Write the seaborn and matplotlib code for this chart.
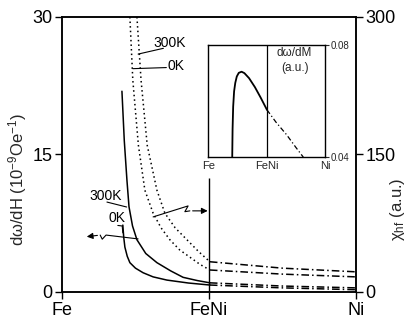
import numpy as np
import pandas as pd
import matplotlib
matplotlib.use("Agg")
import matplotlib.pyplot as plt
import seaborn as sns

# composition axis: 0 = Fe, 0.5 = FeNi, 1 = Ni
comp_ticks = [0.0, 0.5, 1.0]
comp_labels = ["Fe", "FeNi", "Ni"]

# dw/dH (left axis), solid part up to FeNi
dwdh_300_x = [0.204, 0.212, 0.221, 0.228, 0.24, 0.255, 0.285, 0.323, 0.37, 0.412, 0.46, 0.503]
dwdh_300_y = [21.9, 16.5, 12.2, 9.3, 7.2, 5.7, 4.2, 3.2, 2.3, 1.6, 1.25, 1.0]
dwdh_0_x = [0.207, 0.210, 0.214, 0.222, 0.231, 0.25, 0.276, 0.31, 0.357, 0.43, 0.503]
dwdh_0_y = [7.3, 6.0, 4.9, 3.9, 3.2, 2.6, 2.1, 1.65, 1.3, 0.98, 0.76]
# dash-dot continuation FeNi -> Ni
dwdh_300_ext_x = [0.503, 0.75, 1.0]
dwdh_300_ext_y = [1.0, 0.65, 0.45]
dwdh_0_ext_x = [0.503, 0.75, 1.0]
dwdh_0_ext_y = [0.76, 0.45, 0.25]

# chi_hf (right axis), dotted up to FeNi
chi_0_x = [0.231, 0.241, 0.26, 0.282, 0.31, 0.337, 0.367, 0.40, 0.435, 0.47, 0.503]
chi_0_y = [300, 231, 160, 111, 86, 70, 57, 46, 38, 30, 24]
chi_300_x = [0.255, 0.269, 0.29, 0.323, 0.35, 0.385, 0.425, 0.465, 0.503]
chi_300_y = [300, 231, 160, 111, 86, 70, 57, 44, 33]
chi_0_ext_x = [0.503, 0.75, 1.0]
chi_0_ext_y = [24, 19.5, 16.5]
chi_300_ext_x = [0.503, 0.75, 1.0]
chi_300_ext_y = [33, 26, 22]

# inset dw/dM
ins_x = [0.206, 0.209, 0.214, 0.222, 0.232, 0.245, 0.262, 0.286, 0.31, 0.35, 0.40, 0.45, 0.503]
ins_y = [0.040, 0.050, 0.058, 0.0635, 0.0665, 0.0688, 0.0701, 0.0705, 0.0700, 0.0682, 0.0650, 0.0612, 0.0569]
ins_ext_x = [0.503, 0.58, 0.671, 0.75, 0.814]
ins_ext_y = [0.0569, 0.0525, 0.048, 0.0435, 0.040]

sns.set_style("ticks")
plt.rcParams['font.family'] = ['Liberation Sans', 'DejaVu Sans']
plt.rcParams['mathtext.fontset'] = 'custom'
plt.rcParams['mathtext.rm'] = 'Liberation Sans'
plt.rcParams['mathtext.it'] = 'Liberation Sans'

fig = plt.figure(figsize=(4.13, 3.2), dpi=100)
ax = fig.add_axes([0.150, 0.0875, 0.712, 0.8595])
ax2 = ax.twinx()

dashdot = (0, (5, 2, 1, 2))
lw = 1.1

def line(a, xs, ys, ls):
    d = pd.DataFrame({"x": xs, "y": ys})
    sns.lineplot(data=d, x="x", y="y", ax=a, color="black", lw=lw, linestyle=ls,
                 sort=False, estimator=None)

line(ax, dwdh_300_x, dwdh_300_y, "-")
line(ax, dwdh_0_x, dwdh_0_y, "-")
line(ax, dwdh_300_ext_x, dwdh_300_ext_y, dashdot)
line(ax, dwdh_0_ext_x, dwdh_0_ext_y, dashdot)
line(ax2, chi_0_x, chi_0_y, (0, (1, 2)))
line(ax2, chi_300_x, chi_300_y, (0, (1, 2)))
line(ax2, chi_0_ext_x, chi_0_ext_y, dashdot)
line(ax2, chi_300_ext_x, chi_300_ext_y, dashdot)

ax.vlines(0.5, 0, 12.4, color="black", lw=1.0)

ax.set_xlim(0, 1)
ax.set_ylim(0, 30)
ax2.set_ylim(0, 300)
ax.set_xticks(comp_ticks)
ax.set_xticklabels(comp_labels, fontsize=13)
ax.set_yticks([0, 15, 30])
ax.set_yticklabels(["0", "15", "30"], fontsize=13)
ax2.set_yticks([0, 150, 300])
ax2.set_yticklabels(["0", "150", "300"], fontsize=13)
ax.set_xlabel("")
ax.set_ylabel("d\u03c9/dH (10$^{-9}$Oe$^{-1}$)", fontsize=12, va="center")
ax.yaxis.set_label_coords(-0.15, 0.41)
ax2.set_ylabel("\u03c7$_{hf}$ (a.u.)", fontsize=12, va="center")
ax2.yaxis.set_label_coords(1.14, 0.30)
for a in (ax, ax2):
    a.tick_params(length=5, width=1, pad=2, colors="black")
    for s in a.spines.values():
        s.set_visible(True)
        s.set_linewidth(1.1)
        s.set_color("black")

# labels and leaders (axes-fraction positions)
kw = dict(fontsize=10, color="black")
ax.text(0.31, 0.905, "300K", transform=ax.transAxes, va="center", **kw)
ax.plot([0.259, 0.345], [0.865, 0.886], transform=ax.transAxes, color="black", lw=0.8)
ax.text(0.36, 0.82, "0K", transform=ax.transAxes, va="center", **kw)
ax.plot([0.241, 0.355], [0.812, 0.816], transform=ax.transAxes, color="black", lw=0.8)
ax.text(0.095, 0.35, "300K", transform=ax.transAxes, va="center", **kw)
ax.plot([0.153, 0.22], [0.327, 0.309], transform=ax.transAxes, color="black", lw=0.8)
ax.text(0.157, 0.268, "0K", transform=ax.transAxes, va="center", **kw)
ax.plot([0.19, 0.205, 0.207], [0.242, 0.24, 0.215], transform=ax.transAxes, color="black", lw=0.8)

# zigzag arrows
ax.plot([0.259, 0.15, 0.137, 0.13], [0.193, 0.207, 0.192, 0.207], transform=ax.transAxes,
        color="black", lw=0.8)
ax.annotate("", xy=(0.075, 0.2), xytext=(0.13, 0.207), xycoords="axes fraction",
            arrowprops=dict(arrowstyle="-|>", color="black", lw=0.8, mutation_scale=9))
ax.plot([0.31, 0.429, 0.418, 0.435], [0.273, 0.313, 0.292, 0.295], transform=ax.transAxes,
        color="black", lw=0.8)
ax.annotate("", xy=(0.505, 0.295), xytext=(0.435, 0.295), xycoords="axes fraction",
            arrowprops=dict(arrowstyle="-|>", color="black", lw=0.8, mutation_scale=9))

# inset
axi = fig.add_axes([0.504, 0.509, 0.283, 0.35])
d = pd.DataFrame({"x": ins_x, "y": ins_y})
sns.lineplot(data=d, x="x", y="y", ax=axi, color="black", lw=1.3, sort=False, estimator=None)
d = pd.DataFrame({"x": ins_ext_x, "y": ins_ext_y})
sns.lineplot(data=d, x="x", y="y", ax=axi, color="black", lw=0.9, linestyle=(0, (4, 2, 1, 2)),
             sort=False, estimator=None)
axi.axvline(0.5, color="black", lw=0.9)
axi.set_xlim(0, 1)
axi.set_ylim(0.04, 0.08)
axi.set_xticks(comp_ticks)
axi.set_xticklabels(comp_labels, fontsize=8)
axi.set_yticks([0.04, 0.08])
axi.set_yticklabels(["0.04", "0.08"], fontsize=7)
axi.yaxis.tick_right()
axi.set_xlabel("")
axi.set_ylabel("")
axi.tick_params(axis="x", length=0, pad=3)
axi.tick_params(axis="y", length=3, pad=1)
for s in axi.spines.values():
    s.set_visible(True)
    s.set_linewidth(1.0)
    s.set_color("black")
axi.text(0.74, 0.86, "d\u03c9/dM\n(a.u.)", transform=axi.transAxes, ha="center", va="center",
         fontsize=8.5, linespacing=1.3)

fig.savefig("out.png", dpi=100)
